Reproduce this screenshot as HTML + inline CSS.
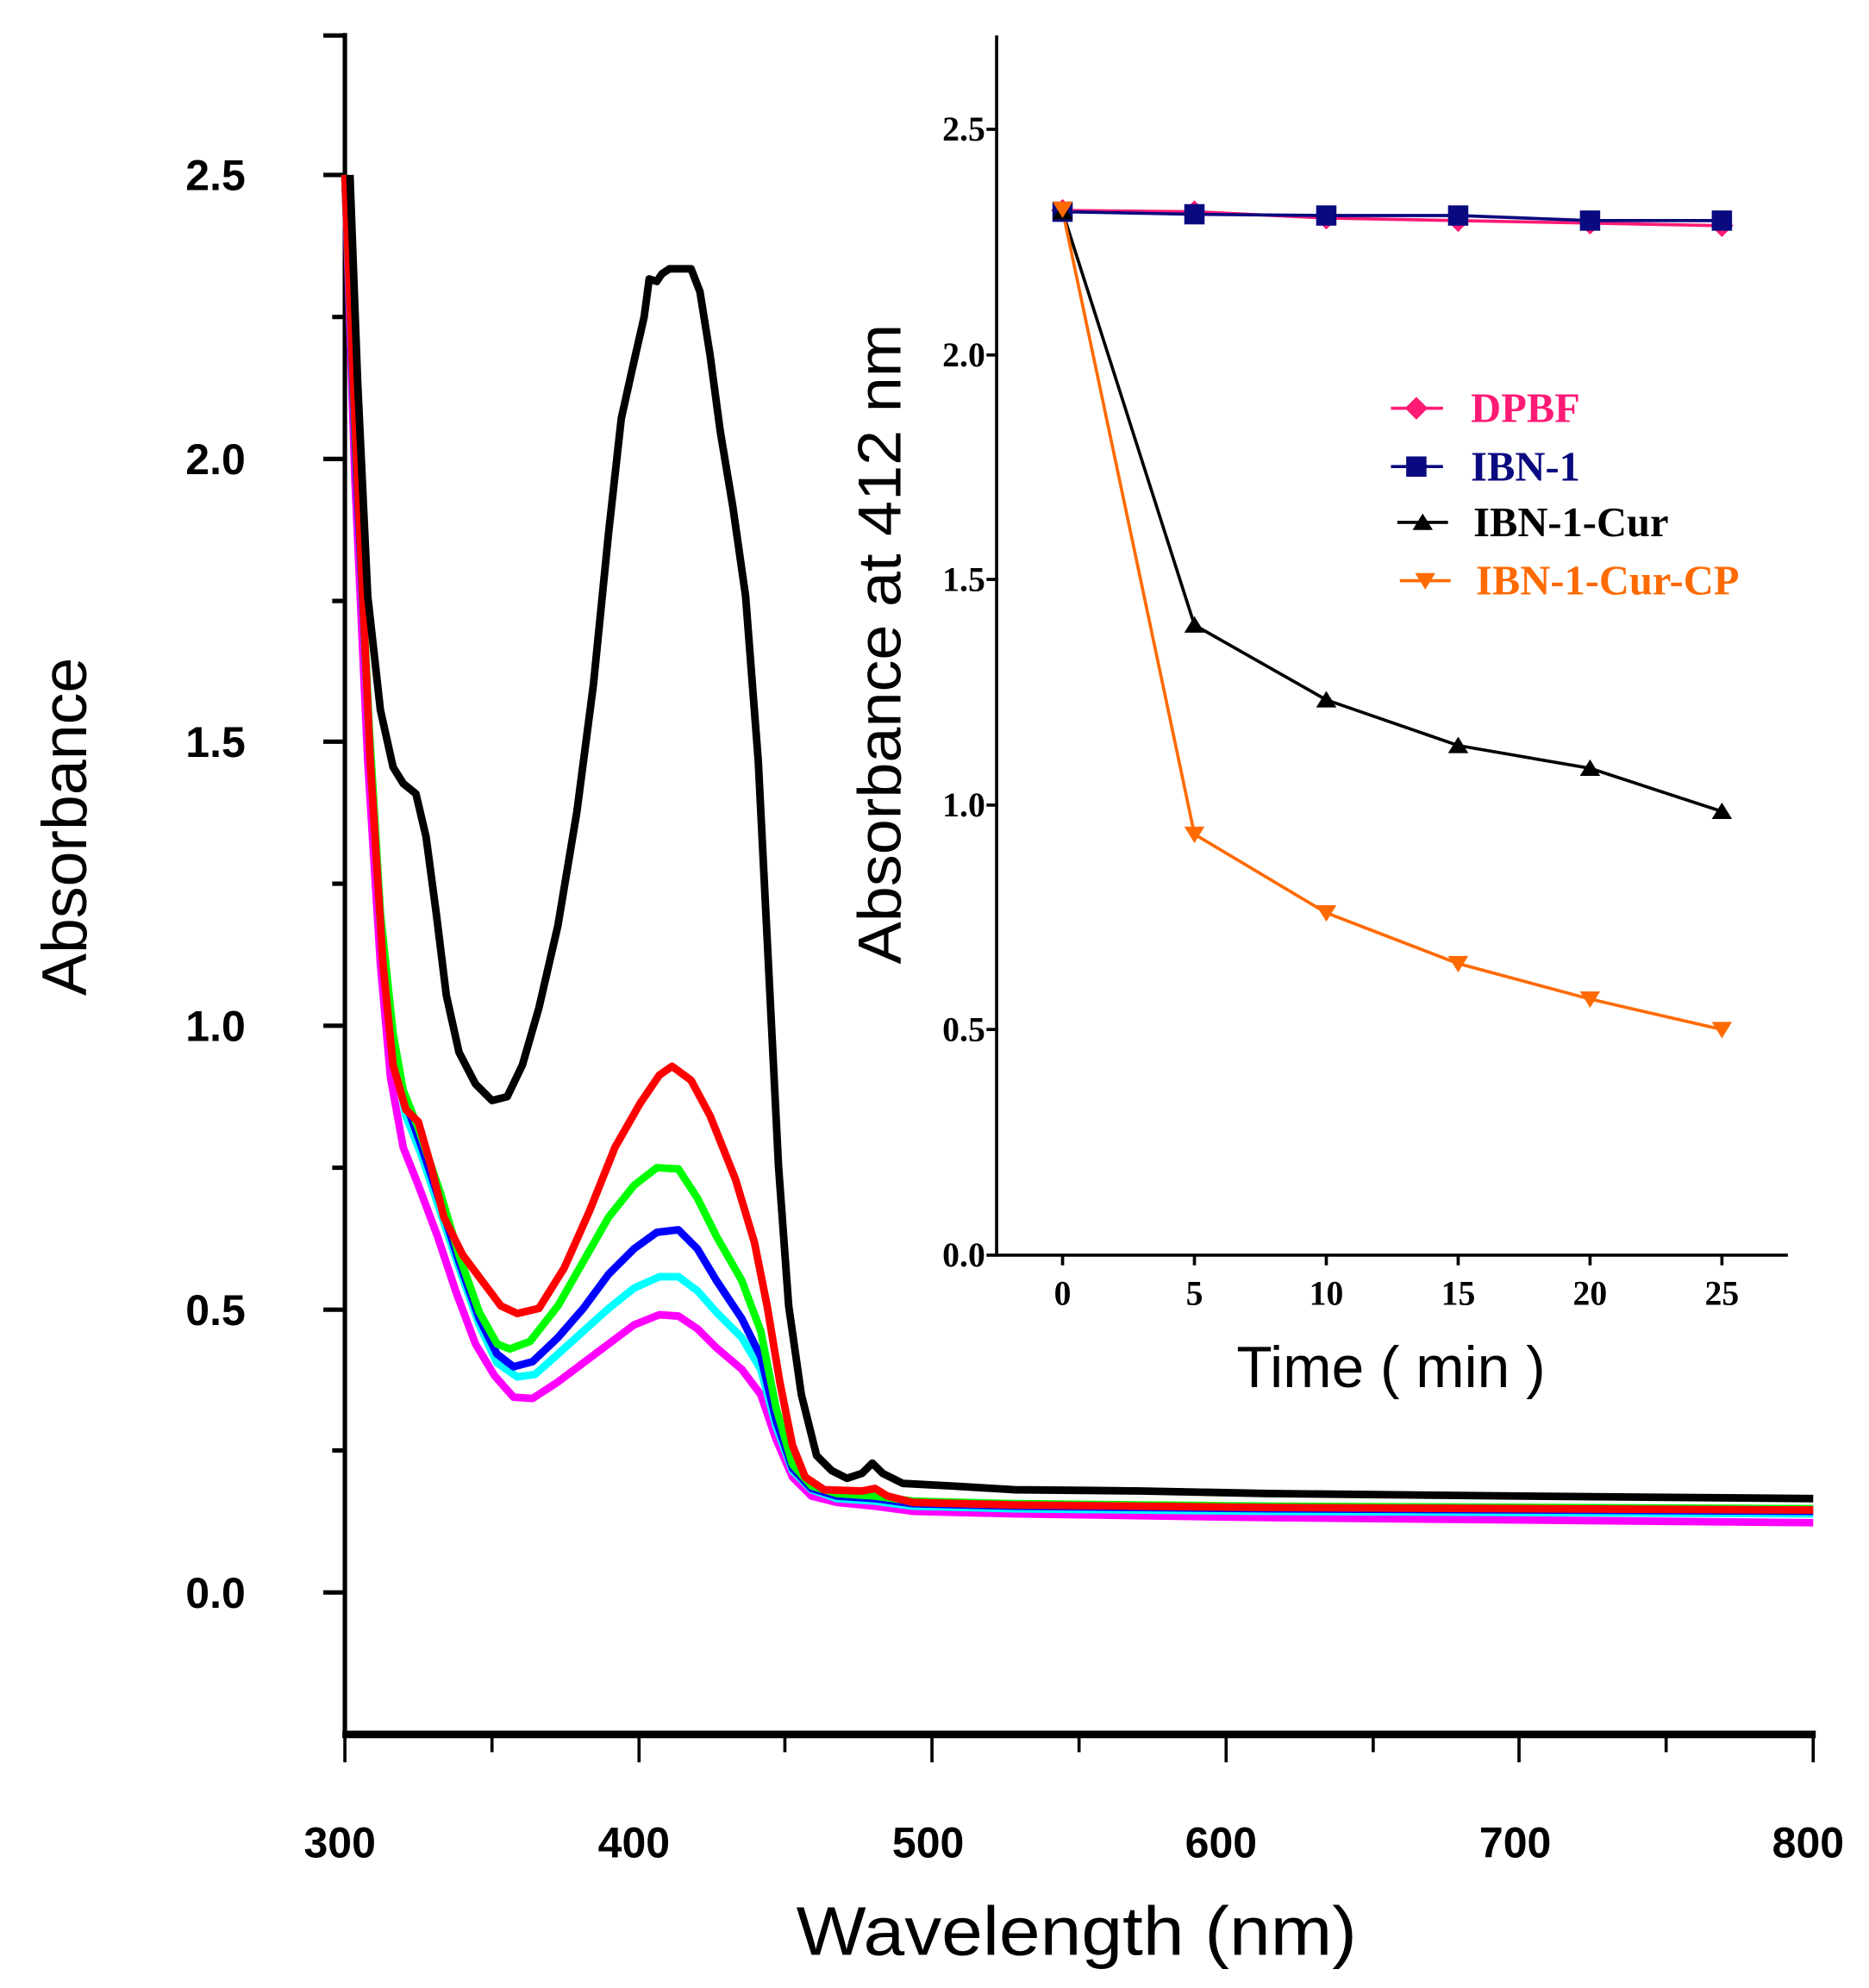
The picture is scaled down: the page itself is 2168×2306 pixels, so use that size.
<!DOCTYPE html>
<html><head><meta charset="utf-8"><style>html,body{margin:0;padding:0;background:#fff}svg{display:block}</style></head>
<body>
<svg width="2168" height="2306" viewBox="0 0 1474 1568" preserveAspectRatio="none" xmlns="http://www.w3.org/2000/svg">
<rect width="1474" height="1568" fill="#fff"/>
<g stroke="#000" fill="none" stroke-linecap="butt">
<line x1="272" y1="26" x2="272" y2="1370" stroke-width="3.5"/>
<line x1="270" y1="1368" x2="1432" y2="1368" stroke-width="6"/>
<g stroke-width="3.5">
<line x1="255" y1="28" x2="272" y2="28"/>
<line x1="255" y1="138" x2="272" y2="138"/><line x1="262" y1="250" x2="272" y2="250"/>
<line x1="255" y1="362" x2="272" y2="362"/><line x1="262" y1="474" x2="272" y2="474"/>
<line x1="255" y1="585" x2="272" y2="585"/><line x1="262" y1="697" x2="272" y2="697"/>
<line x1="255" y1="809" x2="272" y2="809"/><line x1="262" y1="921" x2="272" y2="921"/>
<line x1="255" y1="1033" x2="272" y2="1033"/><line x1="262" y1="1144" x2="272" y2="1144"/>
<line x1="255" y1="1256" x2="272" y2="1256"/>
</g>
<g stroke-width="2.5">
<line x1="272" y1="1368" x2="272" y2="1390"/><line x1="388" y1="1368" x2="388" y2="1382"/>
<line x1="504" y1="1368" x2="504" y2="1390"/><line x1="619" y1="1368" x2="619" y2="1382"/>
<line x1="735" y1="1368" x2="735" y2="1390"/><line x1="851" y1="1368" x2="851" y2="1382"/>
<line x1="967" y1="1368" x2="967" y2="1390"/><line x1="1083" y1="1368" x2="1083" y2="1382"/>
<line x1="1198" y1="1368" x2="1198" y2="1390"/><line x1="1314" y1="1368" x2="1314" y2="1382"/>
<line x1="1430" y1="1368" x2="1430" y2="1390"/>
</g>
</g>
<g font-family="Liberation Sans, Arial, sans-serif" font-weight="bold" font-size="34" text-anchor="middle" fill="#000">
<text x="170" y="150">2.5</text><text x="170" y="374">2.0</text><text x="170" y="597">1.5</text>
<text x="170" y="821">1.0</text><text x="170" y="1045">0.5</text><text x="170" y="1268">0.0</text>
<text x="268" y="1465">300</text><text x="500" y="1465">400</text><text x="732" y="1465">500</text>
<text x="963" y="1465">600</text><text x="1195" y="1465">700</text><text x="1426" y="1465">800</text>
</g>
<text x="628" y="1542" font-family="Liberation Sans, Arial, sans-serif" font-size="54" textLength="442" lengthAdjust="spacingAndGlyphs">Wavelength (nm)</text>
<text transform="translate(68,652) rotate(-90)" font-family="Liberation Sans, Arial, sans-serif" font-size="50" text-anchor="middle">Absorbance</text>
<g fill="none" stroke-width="6" stroke-linejoin="round">
<polyline stroke="#ff00ff" points="272,138 280,380 290,600 300,760 308,850 318,905 330,935 345,975 360,1020 375,1060 390,1085 405,1102 420,1103 440,1090 460,1075 480,1060 500,1045 520,1037 535,1038 550,1048 565,1063 585,1080 600,1100 612,1135 625,1165 640,1180 660,1185 690,1188 720,1192 800,1194 1000,1197 1430,1201"/>
<polyline stroke="#00ffff" points="272,138 281,370 291,580 300,730 310,830 320,880 332,910 347,955 362,1000 378,1045 392,1075 408,1086 422,1084 440,1068 460,1050 480,1032 500,1016 520,1007 535,1007 550,1018 565,1035 585,1055 600,1080 612,1125 625,1160 640,1175 660,1182 690,1184 720,1188 800,1190 1000,1192 1430,1194"/>
<polyline stroke="#0000ff" points="272,138 281,370 291,575 300,725 310,822 320,870 332,903 347,948 362,995 378,1040 392,1068 405,1078 420,1074 440,1055 460,1032 480,1005 500,985 518,972 535,970 550,985 565,1010 585,1040 600,1070 612,1120 625,1158 640,1174 660,1180 690,1182 720,1186 800,1188 1000,1190 1430,1192"/>
<polyline stroke="#00ff00" points="272,138 281,360 291,570 300,720 310,815 318,860 330,890 347,940 362,990 378,1035 392,1060 402,1064 418,1058 440,1030 460,995 480,960 500,935 518,921 535,922 550,945 565,975 585,1010 600,1050 612,1110 625,1155 640,1172 660,1178 690,1180 720,1184 800,1186 1000,1188 1430,1190"/>
<polyline stroke="#ff0000" points="272,138 282,380 292,600 302,760 310,840 320,875 330,885 340,920 350,960 365,990 380,1010 395,1030 408,1036 425,1032 445,1000 465,955 485,905 505,870 520,848 530,841 545,852 560,880 580,930 595,980 605,1030 615,1090 625,1140 635,1165 650,1175 680,1176 690,1174 700,1180 720,1185 800,1187 1000,1189 1430,1191"/>
<polyline stroke="#000000" points="276,138 282,300 290,470 300,560 310,605 318,618 328,626 336,660 344,720 352,785 362,830 375,855 388,868 400,865 412,840 425,795 440,730 455,640 468,540 480,420 490,330 500,285 508,250 512,220 518,222 522,216 528,212 545,212 552,230 560,280 568,340 578,400 588,470 598,600 606,760 614,920 622,1030 632,1100 644,1148 656,1160 668,1166 680,1162 688,1154 696,1162 712,1170 750,1172 800,1175 900,1176 1000,1178 1200,1180 1430,1182"/>
</g>
<g stroke="#000" stroke-width="2.5" fill="none">
<line x1="786" y1="28" x2="786" y2="991"/>
<line x1="785" y1="990" x2="1410" y2="990"/>
<line x1="778" y1="102" x2="786" y2="102"/><line x1="778" y1="280" x2="786" y2="280"/>
<line x1="778" y1="457" x2="786" y2="457"/><line x1="778" y1="635" x2="786" y2="635"/>
<line x1="778" y1="812" x2="786" y2="812"/><line x1="778" y1="990" x2="786" y2="990"/>
<line x1="838" y1="990" x2="838" y2="998"/><line x1="942" y1="990" x2="942" y2="998"/>
<line x1="1046" y1="990" x2="1046" y2="998"/><line x1="1150" y1="990" x2="1150" y2="998"/>
<line x1="1254" y1="990" x2="1254" y2="998"/><line x1="1358" y1="990" x2="1358" y2="998"/>
</g>
<g font-family="Liberation Serif, Times New Roman, serif" font-weight="bold" font-size="27" fill="#000">
<g text-anchor="end"><text x="777" y="111">2.5</text><text x="777" y="289">2.0</text><text x="777" y="466">1.5</text>
<text x="777" y="644">1.0</text><text x="777" y="821">0.5</text><text x="777" y="999">0.0</text></g>
<g text-anchor="middle"><text x="838" y="1029">0</text><text x="942" y="1029">5</text><text x="1046" y="1029">10</text>
<text x="1150" y="1029">15</text><text x="1254" y="1029">20</text><text x="1358" y="1029">25</text></g>
</g>
<text x="1097" y="1094" font-family="Liberation Sans, Arial, sans-serif" font-size="46" text-anchor="middle">Time ( min )</text>
<text transform="translate(710,508) rotate(-90)" font-family="Liberation Sans, Arial, sans-serif" font-size="48" text-anchor="middle" textLength="505" lengthAdjust="spacingAndGlyphs">Absorbance at 412 nm</text>
<g fill="none" stroke-width="2.5">
<polyline stroke="#ff1a75" points="838,166 942,167 1046,172 1150,174 1254,176 1358,178"/>
<polyline stroke="#0a0a80" points="838,167 942,169 1046,170 1150,170 1254,174 1358,174"/>
<polyline stroke="#000" points="838,167 942,493 1046,552 1150,588 1254,606 1358,640"/>
<polyline stroke="#ff6a00" points="838,166 942,658 1046,720 1150,760 1254,788 1358,812"/>
</g>
<g fill="#ff1a75">
<path d="M838,157 l9,9 l-9,9 l-9,-9z"/><path d="M942,158 l9,9 l-9,9 l-9,-9z"/><path d="M1046,163 l9,9 l-9,9 l-9,-9z"/>
<path d="M1150,165 l9,9 l-9,9 l-9,-9z"/><path d="M1254,167 l9,9 l-9,9 l-9,-9z"/><path d="M1358,169 l9,9 l-9,9 l-9,-9z"/>
</g>
<g fill="#0a0a80">
<rect x="830" y="159" width="16" height="16"/><rect x="934" y="161" width="16" height="16"/><rect x="1038" y="162" width="16" height="16"/>
<rect x="1142" y="162" width="16" height="16"/><rect x="1246" y="166" width="16" height="16"/><rect x="1350" y="166" width="16" height="16"/>
</g>
<g fill="#000">
<path d="M838,160 l8,13 h-16z"/><path d="M942,486 l8,13 h-16z"/><path d="M1046,545 l8,13 h-16z"/>
<path d="M1150,581 l8,13 h-16z"/><path d="M1254,599 l8,13 h-16z"/><path d="M1358,633 l8,13 h-16z"/>
</g>
<g fill="#ff6a00">
<path d="M838,172 l8,-13 h-16z"/><path d="M942,665 l8,-13 h-16z"/><path d="M1046,727 l8,-13 h-16z"/>
<path d="M1150,767 l8,-13 h-16z"/><path d="M1254,795 l8,-13 h-16z"/><path d="M1358,819 l8,-13 h-16z"/>
</g>
<g stroke-width="2.5">
<line x1="1097" y1="322" x2="1138" y2="322" stroke="#ff1a75"/><path d="M1117,313 l9,9 l-9,9 l-9,-9z" fill="#ff1a75"/>
<line x1="1097" y1="368" x2="1138" y2="368" stroke="#0a0a80"/><rect x="1109" y="360" width="16" height="16" fill="#0a0a80"/>
<line x1="1102" y1="412" x2="1142" y2="412" stroke="#000"/><path d="M1122,405 l8,13 h-16z" fill="#000"/>
<line x1="1104" y1="458" x2="1144" y2="458" stroke="#ff6a00"/><path d="M1124,465 l8,-13 h-16z" fill="#ff6a00"/>
</g>
<g font-family="Liberation Serif, Times New Roman, serif" font-weight="bold" font-size="33">
<text x="1160" y="333" fill="#ff1a75">DPBF</text>
<text x="1160" y="379" fill="#0a0a80">IBN-1</text>
<text x="1162" y="423" fill="#000">IBN-1-Cur</text>
<text x="1164" y="469" fill="#ff6a00">IBN-1-Cur-CP</text>
</g>
</svg>
</body></html>
